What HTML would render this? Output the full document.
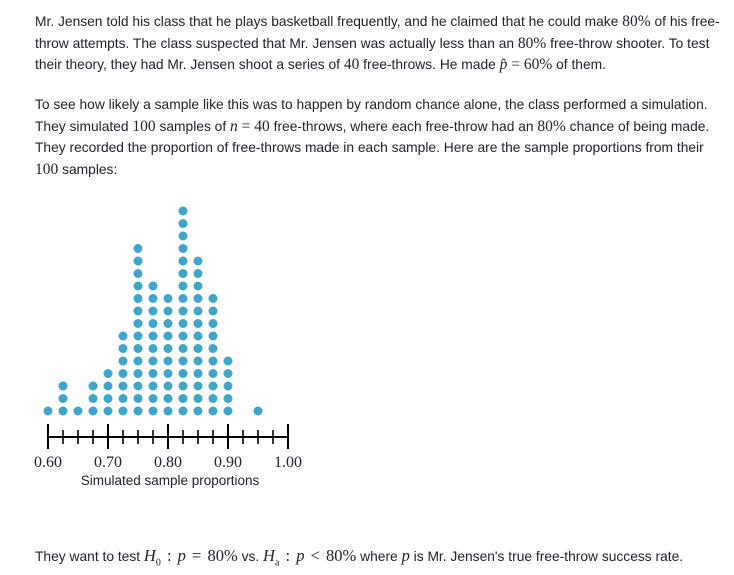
<!DOCTYPE html>
<html><head><meta charset="utf-8"><style>
body{margin:0;width:734px;height:575px;background:#fff;position:relative;overflow:hidden;font-family:"Liberation Sans",sans-serif;color:#21242c}
.l{position:absolute;left:35px;font-size:13.8px;white-space:nowrap;line-height:16px}
.m{font-family:"Liberation Serif",serif;font-size:15.5px}
.i{font-style:italic}
.h .m{font-size:16.5px;word-spacing:2px}
</style></head><body>
<div>
<div class="l" style="top:14px">Mr. Jensen told his class that he plays basketball frequently, and he claimed that he could make <span class="m">80%</span> of his free-</div>
<div class="l" style="top:36px">throw attempts. The class suspected that Mr. Jensen was actually less than an <span class="m">80%</span> free-throw shooter. To test</div>
<div class="l" style="top:57px">their theory, they had Mr. Jensen shoot a series of <span class="m">40</span> free-throws. He made <span class="m"><span class="i">p̂</span> = 60%</span> of them.</div>
</div>
<div>
<div class="l" style="top:97px">To see how likely a sample like this was to happen by random chance alone, the class performed a simulation.</div>
<div class="l" style="top:119px">They simulated <span class="m">100</span> samples of <span class="m"><span class="i">n</span> = 40</span> free-throws, where each free-throw had an <span class="m">80%</span> chance of being made.</div>
<div class="l" style="top:140px">They recorded the proportion of free-throws made in each sample. Here are the sample proportions from their</div>
<div class="l" style="top:162px"><span class="m">100</span> samples:</div>
</div>
<svg id="chart" width="734" height="575" style="position:absolute;left:0;top:0"></svg>
<div class="l h" style="top:548px">They want to test <span class="m"><span class="i">H</span><sub style="font-size:10px">0</sub> : <span class="i">p</span> = 80%</span> vs. <span class="m"><span class="i">H</span><sub style="font-size:10px">a</sub> : <span class="i">p</span> &lt; 80%</span> where <span class="m i">p</span> is Mr. Jensen's true free-throw success rate.</div>
<script>
const proportions=[0.600,0.625,0.650,0.675,0.700,0.725,0.750,0.775,0.800,0.825,0.850,0.875,0.900,0.950];
const counts=[1,3,1,3,4,7,14,11,10,17,13,10,5,1];
const tickLabels=["0.60","0.70","0.80","0.90","1.00"];
const majorTicks=[0.6,0.7,0.8,0.9,1.0];
const NS="http://www.w3.org/2000/svg";
const svg=document.getElementById('chart');
const xS=v=>48+(v-0.6)*600;
const yS=k=>411-k*12.5;
function mk(t,a){const e=document.createElementNS(NS,t);for(const k in a)e.setAttribute(k,a[k]);svg.appendChild(e);return e;}
const ax=mk('line',{x1:xS(0.6),x2:xS(1.0),y1:437,y2:437,stroke:'#000','stroke-width':2});


for(let i=0;i<=16;i++){const v=0.6+i*0.025;const maj=i%4===0;
const t=mk('line',{x1:xS(v),x2:xS(v),y1:maj?424:430,y2:maj?449:444,stroke:'#000','stroke-width':maj?2:1.6});

}
majorTicks.forEach((v,i)=>{const t=mk('text',{x:xS(v),y:467,'text-anchor':'middle','font-family':'Liberation Serif, serif','font-size':16,fill:'#21242c'});t.textContent=tickLabels[i];

});
const tt=mk('text',{x:170,y:485,'text-anchor':'middle','font-family':'Liberation Sans, sans-serif','font-size':13.5,fill:'#21242c'});tt.textContent='Simulated sample proportions';


proportions.forEach((p,i)=>{for(let k=0;k<counts[i];k++){const c=mk('circle',{cx:xS(p),cy:yS(k),r:4.5,fill:'#3fa6c9'});

}});
</script>
</body></html>
